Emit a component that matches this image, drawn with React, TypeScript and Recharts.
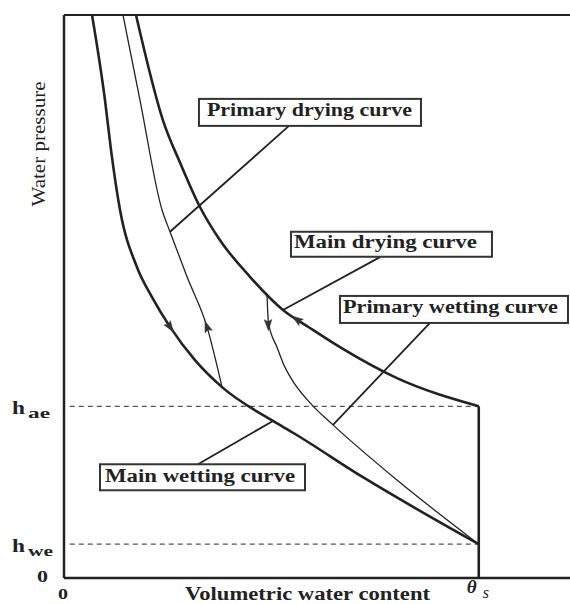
import React from 'react';
import { ComposedChart, Line, XAxis, YAxis, ReferenceLine, ReferenceDot, Label } from 'recharts';

// ---- data (schematic units) ----
const THETA_S = 0.5;
const H_AE = 30.5;
const H_WE = 6;
const X_MAX = 0.61;
const Y_MAX = 100;

const xTicks = [0, THETA_S];
const yTicks = [0, H_WE, H_AE];

const mainWetting = [
  { x: 0.0338, y: 100 },
  { x: 0.0494, y: 84.9 },
  { x: 0.0567, y: 76.0 },
  { x: 0.0675, y: 65.4 },
  { x: 0.088, y: 55.2 },
  { x: 0.1061, y: 49.9 },
  { x: 0.1278, y: 44.6 },
  { x: 0.1579, y: 38.7 },
  { x: 0.1905, y: 33.9 },
  { x: 0.2519, y: 27.9 },
  { x: 0.2761, y: 25.8 },
  { x: 0.3604, y: 17.9 },
  { x: 0.5, y: 6.0 },
];

const primaryDrying = [
  { x: 0.0711, y: 100 },
  { x: 0.0916, y: 84.9 },
  { x: 0.1181, y: 65.4 },
  { x: 0.1278, y: 61.5 },
  { x: 0.1483, y: 53.5 },
  { x: 0.1724, y: 44.6 },
  { x: 0.1905, y: 33.9 },
];

const mainDrying = [
  { x: 0.0868, y: 100 },
  { x: 0.1193, y: 81.3 },
  { x: 0.141, y: 73.4 },
  { x: 0.1639, y: 65.9 },
  { x: 0.1881, y: 60.0 },
  { x: 0.2242, y: 53.5 },
  { x: 0.264, y: 47.6 },
  { x: 0.2966, y: 44.4 },
  { x: 0.3327, y: 41.0 },
  { x: 0.4014, y: 35.5 },
  { x: 0.5, y: 30.5 },
];

const primaryWetting = [
  { x: 0.2447, y: 50.5 },
  { x: 0.2465, y: 45.3 },
  { x: 0.2568, y: 41.0 },
  { x: 0.2652, y: 37.8 },
  { x: 0.2749, y: 35.2 },
  { x: 0.2966, y: 31.1 },
  { x: 0.3243, y: 27.2 },
  { x: 0.4014, y: 17.4 },
  { x: 0.5, y: 6.0 },
];

const saturatedSegment = [
  { x: THETA_S, y: H_AE },
  { x: THETA_S, y: 0 },
];

const arrowPoints = [
  { x: 0.1278, y: 44.6 },
  { x: 0.1724, y: 44.6 },
  { x: 0.2462, y: 45.0 },
  { x: 0.2809, y: 45.9 },
];
const arrowAngles = [56, -110, 88, -145];

const leaderLines = [
  [{ x: 0.2712, y: 80.3 }, { x: 0.1278, y: 61.5 }],
  [{ x: 0.3809, y: 57.0 }, { x: 0.264, y: 47.6 }],
  [{ x: 0.4412, y: 45.3 }, { x: 0.3243, y: 27.2 }],
  [{ x: 0.1615, y: 20.2 }, { x: 0.2519, y: 27.9 }],
];

const labelTexts = ['Primary drying curve', 'Main drying curve', 'Primary wetting curve', 'Main wetting curve'];
const labelAnchors = [
  { x: 0.1627, y: 85.1 },
  { x: 0.2736, y: 61.5 },
  { x: 0.3327, y: 50.1 },
  { x: 0.0434, y: 20.2 },
];

// ---- styles ----
const labelBoxStyles = [
  { w: 222, h: 27, dx: 8, base: 17, len: 205 },
  { w: 201, h: 25, dx: 3, base: 16, len: 183 },
  { w: 228, h: 27, dx: 3, base: 17, len: 215 },
  { w: 205, h: 26, dx: 5, base: 18, len: 190 },
];

const FONT = "'Liberation Serif', 'Times New Roman', serif";
const INK = '#222';

const YTick = (props: any) => {
  const { x, y, payload } = props;
  const v = payload.value;
  if (v === 0) {
    return (
      <text x={x - 27} y={y + 4} fontFamily={FONT} fontWeight="bold" fontSize={16} fill={INK} textLength={11} lengthAdjust="spacingAndGlyphs">0</text>
    );
  }
  const sub = v === H_AE ? 'ae' : 'we';
  const subLen = v === H_AE ? 22 : 25;
  return (
    <g>
      <text x={x - 52} y={y + 8} fontFamily={FONT} fontWeight="bold" fontSize={18} fill={INK} textLength={13} lengthAdjust="spacingAndGlyphs">h</text>
      <text x={x - 36} y={y + 12} fontFamily={FONT} fontWeight="bold" fontSize={15} fill={INK} textLength={subLen} lengthAdjust="spacingAndGlyphs">{sub}</text>
    </g>
  );
};

const XTick = (props: any) => {
  const { x, y, payload } = props;
  if (payload.value === 0) {
    return (
      <text x={x - 6} y={y + 21} fontFamily={FONT} fontWeight="bold" fontSize={14} fill={INK} textLength={10} lengthAdjust="spacingAndGlyphs">0</text>
    );
  }
  return (
    <g>
      <text x={x - 12} y={y + 15} fontFamily={FONT} fontStyle="italic" fontWeight="bold" fontSize={19} fill={INK}>θ</text>
      <text x={x + 4} y={y + 20} fontFamily={FONT} fontStyle="italic" fontSize={16} fill={INK}>s</text>
    </g>
  );
};

const XTitle = (props: any) => {
  const vb = props.viewBox || { x: 64, y: 578 };
  return (
    <text x={vb.x + 121} y={vb.y + 22} fontFamily={FONT} fontWeight="bold" fontSize={18} fill={INK} textLength={245} lengthAdjust="spacingAndGlyphs">
      Volumetric water content
    </text>
  );
};

const YTitle = (props: any) => {
  const vb = props.viewBox || { x: 0, y: 15 };
  const cx = vb.x + 45;
  const cy = vb.y + 129;
  return (
    <text x={cx} y={cy} transform={`rotate(-90, ${cx}, ${cy})`} textAnchor="middle" fontFamily={FONT} fontSize={18} fill={INK} textLength={125} lengthAdjust="spacingAndGlyphs">
      Water pressure
    </text>
  );
};

const makeArrow = (angle: number) => (p: any) => (
  <polygon
    points="6,0 -5,-3.8 -3,0 -5,3.8"
    transform={`translate(${p.cx}, ${p.cy}) rotate(${angle})`}
    fill="#333"
    stroke="#333"
    strokeWidth={0.5}
  />
);

const makeLabelBox = (text: string, s: { w: number; h: number; dx: number; base: number; len: number }) => (p: any) => (
  <g>
    <rect x={p.cx} y={p.cy} width={s.w} height={s.h} fill="#fff" stroke="#333" strokeWidth={2} />
    <text x={p.cx + s.dx} y={p.cy + s.base} fontFamily={FONT} fontWeight="bold" fontSize={18} fill={INK} textLength={s.len} lengthAdjust="spacingAndGlyphs">
      {text}
    </text>
  </g>
);

export default function App() {
  return (
    <div style={{ position: 'absolute', left: 0, top: 0, width: 570, height: 604, background: '#fff' }}>
      <ComposedChart width={570} height={604} margin={{ top: 15, right: 0, bottom: 0, left: 0 }}>
        <XAxis
          type="number"
          dataKey="x"
          domain={[0, X_MAX]}
          ticks={xTicks}
          interval={0}
          allowDataOverflow
          height={26}
          tickSize={0}
          tickMargin={0}
          tickLine={false}
          tick={XTick}
          axisLine={{ stroke: INK, strokeWidth: 2.5 }}
        >
          <Label content={XTitle} />
        </XAxis>
        <YAxis
          type="number"
          dataKey="y"
          domain={[0, Y_MAX]}
          ticks={yTicks}
          interval={0}
          allowDataOverflow
          width={64}
          tickSize={0}
          tickMargin={0}
          tickLine={false}
          tick={YTick}
          axisLine={{ stroke: INK, strokeWidth: 2.5 }}
        >
          <Label content={YTitle} />
        </YAxis>

        <ReferenceLine y={Y_MAX} stroke={INK} strokeWidth={2} />
        <ReferenceLine segment={[{ x: 0.007, y: H_AE }, { x: THETA_S, y: H_AE }]} stroke="#555" strokeWidth={1.2} strokeDasharray="5 4" />
        <ReferenceLine segment={[{ x: 0.007, y: H_WE }, { x: THETA_S, y: H_WE }]} stroke="#555" strokeWidth={1.2} strokeDasharray="5 4" />

        {leaderLines.map((seg, i) => (
          <ReferenceLine key={`ld${i}`} segment={seg} stroke={INK} strokeWidth={1.8} />
        ))}

        <Line data={mainWetting} dataKey="y" type="monotone" stroke={INK} strokeWidth={2.6} dot={false} isAnimationActive={false} />
        <Line data={primaryDrying} dataKey="y" type="monotone" stroke={INK} strokeWidth={1.3} dot={false} isAnimationActive={false} />
        <Line data={mainDrying} dataKey="y" type="monotone" stroke={INK} strokeWidth={2.6} dot={false} isAnimationActive={false} />
        <Line data={primaryWetting} dataKey="y" type="monotone" stroke={INK} strokeWidth={1.3} dot={false} isAnimationActive={false} />
        <Line data={saturatedSegment} dataKey="y" type="linear" stroke={INK} strokeWidth={2.6} dot={false} isAnimationActive={false} />

        {arrowPoints.map((a, i) => (
          <ReferenceDot key={`ar${i}`} x={a.x} y={a.y} r={4} shape={makeArrow(arrowAngles[i])} />
        ))}

        {labelAnchors.map((a, i) => (
          <ReferenceDot key={`lb${i}`} x={a.x} y={a.y} r={4} shape={makeLabelBox(labelTexts[i], labelBoxStyles[i])} />
        ))}
      </ComposedChart>
    </div>
  );
}
